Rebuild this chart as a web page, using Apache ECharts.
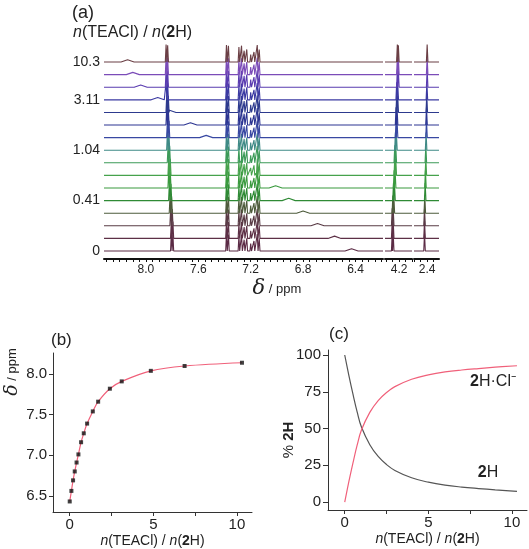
<!DOCTYPE html>
<html><head><meta charset="utf-8">
<script src="https://cdn.jsdelivr.net/npm/echarts@6/dist/echarts.min.js"></script>
<style>html,body{margin:0;padding:0;background:#fff}#c{width:529px;height:549px}</style>
</head><body><div id="c"></div>
<script>
// ---- data ----
// titration ratios n(TEACl)/n(2H), bottom trace to top trace
const ratio = [0, 0.1, 0.2, 0.3, 0.41, 0.52, 0.68, 0.84, 1.04, 1.38, 1.7, 2.4, 3.11, 4.85, 6.87, 10.3];
// observed shift of the moving NH signal (ppm)
const deltaObs = [6.43, 6.56, 6.69, 6.80, 6.91, 7.01, 7.16, 7.27, 7.39, 7.54, 7.66, 7.82, 7.91, 8.04, 8.10, 8.14];
// trace labels shown on the left of panel (a)
const traceLabels = ['0', '', '', '', '0.41', '', '', '', '1.04', '', '', '', '3.11', '', '', '10.3'];
// positions of the slightly shifting sharp peaks per trace (ppm)
const peakH1 = [7.80, 7.80, 7.805, 7.81, 7.815, 7.82, 7.82, 7.825, 7.83, 7.83, 7.835, 7.835, 7.84, 7.84, 7.84, 7.84];
const peak42 = [4.25, 4.25, 4.25, 4.245, 4.24, 4.235, 4.23, 4.23, 4.225, 4.22, 4.22, 4.215, 4.215, 4.21, 4.21, 4.21];
const peak24 = [2.42, 2.42, 2.42, 2.418, 2.415, 2.413, 2.41, 2.41, 2.408, 2.405, 2.405, 2.403, 2.402, 2.40, 2.40, 2.40];
// fixed aromatic multiplet lines (ppm) and heights (in trace spacings)
const aromPpm = [7.385, 7.37, 7.29, 7.27, 7.25, 7.23, 7.20, 7.175, 7.15, 7.135];
const aromHeight = [1.35, 1.3, 1.2, 1.3, 0.9, 1.0, 0.6, 0.8, 1.35, 1.0];
const sharpHeight = 1.4;
const broadHeight = 0.18;
// panel (c) speciation curves
const fracX = [0, 0.25, 0.5, 0.75, 1, 1.5, 2, 2.5, 3, 4, 5, 6, 7, 8, 9, 10.3];
const pct2H = [100, 86, 73, 61, 51, 39, 31, 25.5, 21.5, 16.5, 13.5, 11.5, 10.2, 9.2, 8.3, 7.3];
const pct2HCl = [0, 14, 27, 39, 49, 61, 69, 74.5, 78.5, 83.5, 86.5, 88.5, 89.8, 90.8, 91.7, 92.7];
// tick labels
const ppmLabels = [8.0, 7.6, 7.2, 6.8, 6.4];
const ratioTicks = [0, 5, 10];
const deltaTicks = [6.5, 7.0, 7.5, 8.0];
const pctTicks = [0, 25, 50, 75, 100];

// ---- styles ----
const traceColors = ['#5b2b45', '#5d3046', '#5a3c46', '#4e5c3c', '#2f8a35', '#3a9a3e', '#46a24c', '#3c9a58', '#3f8a86', '#3848a2', '#2c3592', '#2d3a8e', '#3b3aa2', '#5a3cb0', '#7b4cb8', '#6b3f45'];
const FONT = "'Liberation Sans', Arial, sans-serif";
const segs = [
  {min: 6.19, max: 8.32, labels: ppmLabels},
  {min: 4.10, max: 4.31, labels: [4.2]},
  {min: 2.31, max: 2.50, labels: [2.4]}
];

function ticksFor(seg) {
  const out = [];
  for (let k = Math.ceil(seg.min / 0.05 - 1e-6); k * 0.05 <= seg.max + 1e-6; k++) out.push(+(k * 0.05).toFixed(2));
  return out;
}

function buildTrace(i, s) {
  const seg = segs[s];
  const peaks = [];
  if (s === 0) {
    peaks.push([deltaObs[i], broadHeight, 0.05]);
    peaks.push([peakH1[i] + 0.006, sharpHeight, 0.006]);
    peaks.push([peakH1[i] - 0.006, sharpHeight * 0.95, 0.006]);
    aromPpm.forEach((p, k) => peaks.push([p, aromHeight[k], 0.006]));
  } else if (s === 1) {
    peaks.push([peak42[i] + 0.004, sharpHeight, 0.006]);
    peaks.push([peak42[i] - 0.004, sharpHeight * 0.95, 0.006]);
  } else {
    peaks.push([peak24[i], sharpHeight, 0.006]);
  }
  const pts = [[seg.max, i], [seg.min, i]];
  peaks.forEach(([p, h, w]) => {
    if (p - w < seg.min || p + w > seg.max) return;
    pts.push([p + w, i], [p, i + h], [p - w, i]);
  });
  pts.sort((a, b) => b[0] - a[0]);
  return pts;
}

const grids = [
  {left: 104, top: 40, width: 279, height: 219},
  {left: 385, top: 40, width: 27, height: 219},
  {left: 414, top: 40, width: 25, height: 219},
  {left: 53, top: 353, width: 199, height: 159},
  {left: 328, top: 350, width: 199, height: 160}
];

const xAxes = [], yAxes = [], series = [];
segs.forEach((seg, s) => {
  xAxes.push({
    type: 'value', gridIndex: s, inverse: true, min: seg.min, max: seg.max,
    axisLine: {show: true, onZero: false, lineStyle: {color: '#111', width: 2}},
    axisTick: {show: true, customValues: ticksFor(seg), length: 3, lineStyle: {color: '#111', width: 1}},
    axisLabel: {customValues: seg.labels, formatter: v => v.toFixed(1), fontSize: 12, color: '#222', fontFamily: FONT, margin: 5},
    splitLine: {show: false}
  });
  yAxes.push({
    type: 'value', gridIndex: s, min: -0.635, max: 16.75,
    axisLine: {show: false}, axisTick: {show: false}, splitLine: {show: false},
    axisLabel: s === 0 ? {
      show: true, customValues: traceLabels.map((t, k) => t ? k : null).filter(v => v !== null),
      formatter: v => traceLabels[Math.round(v)], fontSize: 14, color: '#222', fontFamily: FONT, margin: 4
    } : {show: false}
  });
  for (let i = 0; i < deltaObs.length; i++) {
    series.push({
      type: 'line', xAxisIndex: s, yAxisIndex: s, data: buildTrace(i, s),
      symbol: 'none', lineStyle: {color: traceColors[i], width: 1.1}, silent: true, animation: false, z: 2
    });
  }
});

const nameRich = {i: {fontStyle: 'italic', fontSize: 14, fontFamily: FONT, color: '#222'}, b: {fontWeight: 'bold', fontSize: 14, fontFamily: FONT, color: '#222'}};
// panel (b)
xAxes.push({
  type: 'value', gridIndex: 3, min: -1, max: 10.9,
  axisLine: {show: true, onZero: false, lineStyle: {color: '#333', width: 1}},
  axisTick: {show: true, customValues: [0, 2.5, 5, 7.5, 10], length: 4, lineStyle: {color: '#333'}},
  axisLabel: {customValues: ratioTicks, fontSize: 15, color: '#222', fontFamily: FONT, margin: 5},
  splitLine: {show: false},
  name: '{i|n}(TEACl) / {i|n}({b|2}H)', nameLocation: 'middle', nameGap: 22,
  nameTextStyle: {fontSize: 14, color: '#222', fontFamily: FONT, rich: nameRich}
});
yAxes.push({
  type: 'value', gridIndex: 3, min: 6.3, max: 8.26,
  axisLine: {show: true, onZero: false, lineStyle: {color: '#333', width: 1}},
  axisTick: {show: true, customValues: deltaTicks, length: 4, lineStyle: {color: '#333'}},
  axisLabel: {customValues: deltaTicks, formatter: v => v.toFixed(1), fontSize: 15, color: '#222', fontFamily: FONT, margin: 6},
  splitLine: {show: false}
});
series.push({
  type: 'line', xAxisIndex: 3, yAxisIndex: 3, data: ratio.map((x, k) => [x, deltaObs[k]]),
  smooth: 0.35, symbol: 'none', lineStyle: {color: '#f0607a', width: 1.2}, animation: false, silent: true
});
series.push({
  type: 'scatter', xAxisIndex: 3, yAxisIndex: 3, data: ratio.map((x, k) => [x, deltaObs[k]]),
  symbol: 'rect', symbolSize: 4, itemStyle: {color: '#111'}, animation: false, silent: true, z: 5
});

// panel (c)
xAxes.push({
  type: 'value', gridIndex: 4, min: -1, max: 10.9,
  axisLine: {show: true, onZero: false, lineStyle: {color: '#333', width: 1}},
  axisTick: {show: true, customValues: [0, 2.5, 5, 7.5, 10], length: 4, lineStyle: {color: '#333'}},
  axisLabel: {customValues: ratioTicks, fontSize: 15, color: '#222', fontFamily: FONT, margin: 5},
  splitLine: {show: false},
  name: '{i|n}(TEACl) / {i|n}({b|2}H)', nameLocation: 'middle', nameGap: 22,
  nameTextStyle: {fontSize: 14, color: '#222', fontFamily: FONT, rich: nameRich}
});
yAxes.push({
  type: 'value', gridIndex: 4, min: -5.4, max: 103.4,
  axisLine: {show: true, onZero: false, lineStyle: {color: '#333', width: 1}},
  axisTick: {show: true, customValues: pctTicks, length: 5, lineStyle: {color: '#333'}},
  axisLabel: {customValues: pctTicks, fontSize: 15, color: '#222', fontFamily: FONT, margin: 7},
  splitLine: {show: false}
});
series.push({
  type: 'line', xAxisIndex: 4, yAxisIndex: 4, data: fracX.map((x, k) => [x, pct2H[k]]),
  smooth: 0.4, symbol: 'none', lineStyle: {color: '#555', width: 1.2}, animation: false, silent: true
});
series.push({
  type: 'line', xAxisIndex: 4, yAxisIndex: 4, data: fracX.map((x, k) => [x, pct2HCl[k]]),
  smooth: 0.4, symbol: 'none', lineStyle: {color: '#f0607a', width: 1.2}, animation: false, silent: true
});

function txt(x, y, text, fontSize, extra) {
  return {
    type: 'text', x: x, y: y, silent: true,
    style: Object.assign({text: text, fontSize: fontSize, fontFamily: FONT, fill: '#222', align: 'left', verticalAlign: 'middle'}, extra || {})
  };
}
const richBase = {
  i: {fontStyle: 'italic', fontFamily: FONT, fill: '#222'},
  b: {fontWeight: 'bold', fontFamily: FONT, fill: '#222'}
};
const graphic = [
  txt(72, 13, '(a)', 18),
  txt(73, 33, '{i|n}(TEACl) / {i|n}({b|2}H)', 16, {rich: {i: Object.assign({fontSize: 16}, richBase.i), b: Object.assign({fontSize: 16}, richBase.b)}}),
  txt(277, 289, '{d|δ}{p| / ppm}', 14, {align: 'center', rich: {d: {fontStyle: 'italic', fontSize: 21, fontFamily: 'DejaVu Serif, serif', fill: '#222'}, p: {fontSize: 13, fontFamily: FONT, fill: '#222'}}}),
  txt(51, 340, '(b)', 17),
  txt(329, 334, '(c)', 17),
  Object.assign(txt(12, 372, '{d|δ}{p| / ppm}', 14, {align: 'center', rich: {d: {fontStyle: 'italic', fontSize: 19, fontFamily: 'DejaVu Serif, serif', fill: '#222'}, p: {fontSize: 13, fontFamily: FONT, fill: '#222'}}}), {rotation: Math.PI / 2}),
  Object.assign(txt(289, 440, '% {b|2H}', 15, {align: 'center', rich: {b: Object.assign({fontSize: 15}, richBase.b)}}), {rotation: Math.PI / 2}),
  txt(493, 382, '{b|2}H·Cl⁻', 16, {align: 'center', rich: {b: Object.assign({fontSize: 16}, richBase.b)}}),
  txt(488, 473, '{b|2}H', 16, {align: 'center', rich: {b: Object.assign({fontSize: 16}, richBase.b)}})
];

const chart = echarts.init(document.getElementById('c'), null, {renderer: 'canvas'});
chart.setOption({
  backgroundColor: '#fff',
  animation: false,
  grid: grids,
  xAxis: xAxes,
  yAxis: yAxes,
  series: series,
  graphic: graphic
});
</script></body></html>
